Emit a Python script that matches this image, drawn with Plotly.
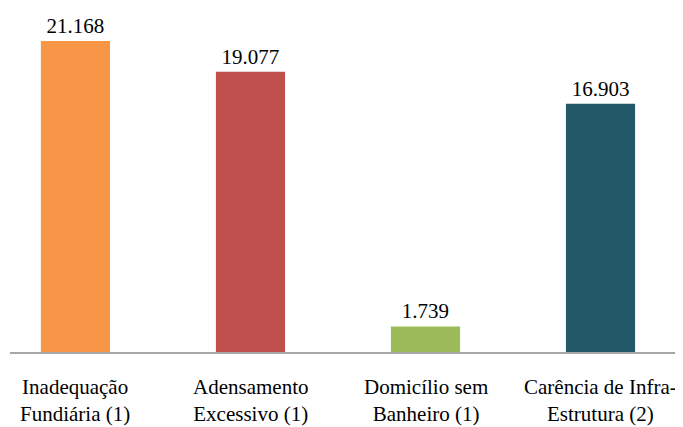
import plotly.graph_objects as go

categories = ["Inadequação<br>Fundiária (1)", "Adensamento<br>Excessivo (1)",
              "Domicílio sem<br>Banheiro (1)", "Carência de Infra-<br>Estrutura (2)"]
values = [21168, 19077, 1739, 16903]
value_labels = ["21.168", "19.077", "1.739", "16.903"]
colors = ["#F79646", "#C0504D", "#9BBB59", "#215968"]

SERIF = "Liberation Serif"
x = list(range(len(categories)))

fig = go.Figure()
fig.add_trace(go.Bar(
    x=x, y=values, width=0.395, marker=dict(color=colors, line=dict(width=0)),
    text=value_labels, textposition="outside", cliponaxis=False,
    textfont=dict(family=SERIF, size=21, color="#000000"),
))

# category labels under the axis
for xi, lab in zip(x, categories):
    fig.add_annotation(x=xi, xref="x", y=0, yref="paper", yanchor="middle", yshift=-48,
                       text=lab, showarrow=False, align="center",
                       font=dict(family=SERIF, size=21, color="#000000"))

fig.update_layout(
    width=683, height=427, margin=dict(l=2, r=0, t=0, b=83),
    paper_bgcolor="white", plot_bgcolor="white", showlegend=False,
    xaxis=dict(range=[-0.374, 3.517], showticklabels=False, automargin=False,
               showline=True, linecolor="#A6A6A6", linewidth=1.5,
               showgrid=False, zeroline=False, ticks=""),
    yaxis=dict(range=[0, 23414], visible=False, automargin=False),
)
fig.write_html("out.html")
